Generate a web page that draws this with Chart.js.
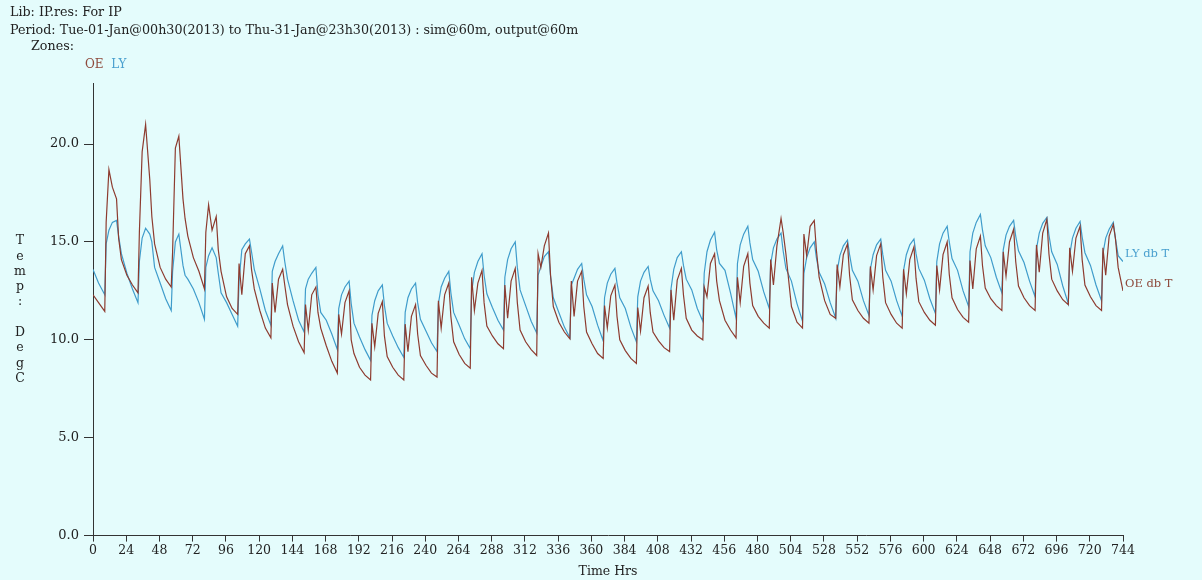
<!DOCTYPE html>
<html>
<head>
<meta charset="utf-8">
<script src="https://cdn.jsdelivr.net/npm/chart.js@4.4.1/dist/chart.umd.min.js"></script>
<style>
  html, body { margin:0; padding:0; background:#e4fcfc; }
  #wrap { width:1202px; height:580px; position:relative; }
</style>
</head>
<body>
<div id="wrap"><canvas id="c" width="1202" height="580"></canvas></div>
<script>
// ---- Data ----
const seriesNames = ["OE", "LY"];
const seriesLabels = ["OE db T", "LY db T"];
const headerLines = [
  "Lib: IP.res: For IP",
  "Period: Tue-01-Jan@00h30(2013) to Thu-31-Jan@23h30(2013) : sim@60m, output@60m",
  "Zones:"
];
const yTitleLetters = ["T","e","m","p",":","","D","e","g","C"];
const xTitle = "Time Hrs";

const hours = [0, 4,
8.5, 9.5, 11.5, 14, 17, 18.5, 20.5, 24.5, 28.5,
32.5, 33.5, 35.5, 38, 41, 42.5, 44.5, 48.5, 52.5,
56.5, 57.5, 59.5, 62, 65, 66.5, 68.5, 72.5, 76.5,
80.5, 81.5, 83.5, 86, 89, 90.5, 92.5, 96.5, 100.5,
104.5, 105.5, 107.5, 110, 113, 114.5, 116.5, 120.5, 124.5,
128.5, 129.5, 131.5, 134, 137, 138.5, 140.5, 144.5, 148.5,
152.5, 153.5, 155.5, 158, 161, 162.5, 164.5, 168.5, 172.5,
176.5, 177.5, 179.5, 182, 185, 186.5, 188.5, 192.5, 196.5,
200.5, 201.5, 203.5, 206, 209, 210.5, 212.5, 216.5, 220.5,
224.5, 225.5, 227.5, 230, 233, 234.5, 236.5, 240.5, 244.5,
248.5, 249.5, 251.5, 254, 257, 258.5, 260.5, 264.5, 268.5,
272.5, 273.5, 275.5, 278, 281, 282.5, 284.5, 288.5, 292.5,
296.5, 297.5, 299.5, 302, 305, 306.5, 308.5, 312.5, 316.5,
320.5, 321.5, 323.5, 326, 329, 330.5, 332.5, 336.5, 340.5,
344.5, 345.5, 347.5, 350, 353, 354.5, 356.5, 360.5, 364.5,
368.5, 369.5, 371.5, 374, 377, 378.5, 380.5, 384.5, 388.5,
392.5, 393.5, 395.5, 398, 401, 402.5, 404.5, 408.5, 412.5,
416.5, 417.5, 419.5, 422, 425, 426.5, 428.5, 432.5, 436.5,
440.5, 441.5, 443.5, 446, 449, 450.5, 452.5, 456.5, 460.5,
464.5, 465.5, 467.5, 470, 473, 474.5, 476.5, 480.5, 484.5,
488.5, 489.5, 491.5, 494, 497, 498.5, 500.5, 504.5, 508.5,
512.5, 513.5, 515.5, 518, 521, 522.5, 524.5, 528.5, 532.5,
536.5, 537.5, 539.5, 542, 545, 546.5, 548.5, 552.5, 556.5,
560.5, 561.5, 563.5, 566, 569, 570.5, 572.5, 576.5, 580.5,
584.5, 585.5, 587.5, 590, 593, 594.5, 596.5, 600.5, 604.5,
608.5, 609.5, 611.5, 614, 617, 618.5, 620.5, 624.5, 628.5,
632.5, 633.5, 635.5, 638, 641, 642.5, 644.5, 648.5, 652.5,
656.5, 657.5, 659.5, 662, 665, 666.5, 668.5, 672.5, 676.5,
680.5, 681.5, 683.5, 686, 689, 690.5, 692.5, 696.5, 700.5,
704.5, 705.5, 707.5, 710, 713, 714.5, 716.5, 720.5, 724.5,
728.5, 729.5, 731.5, 734, 737, 738.5, 740.5, 744];

const oeTemp = [12.3, 11.9,
11.45, 16.0, 18.7, 17.8, 17.2, 15.2, 14.1, 13.3, 12.8,
12.4, 15.5, 19.6, 21.0, 18.2, 16.3, 14.9, 13.7, 13.1,
12.7, 14.5, 19.8, 20.4, 17.2, 16.2, 15.3, 14.2, 13.5,
12.6, 15.5, 16.9, 15.6, 16.3, 14.6, 13.5, 12.2, 11.6,
11.3, 13.9, 12.3, 14.4, 14.8, 13.6, 12.6, 11.5, 10.6,
10.1, 12.9, 11.4, 13.1, 13.6, 12.8, 11.8, 10.7, 9.9,
9.35, 11.8, 10.5, 12.3, 12.7, 11.4, 10.6, 9.7, 8.9,
8.3, 11.3, 10.3, 11.9, 12.5, 10.0, 9.3, 8.6, 8.2,
7.95, 10.85, 9.65, 11.35, 11.95, 10.2, 9.15, 8.6, 8.2,
7.95, 10.8, 9.4, 11.2, 11.8, 10.3, 9.2, 8.7, 8.3,
8.1, 12.0, 10.6, 12.3, 12.9, 11.2, 9.9, 9.25, 8.8,
8.55, 13.2, 11.5, 12.9, 13.55, 11.9, 10.7, 10.2, 9.8,
9.55, 12.8, 11.1, 13.0, 13.65, 11.9, 10.5, 9.9, 9.5,
9.2, 14.4, 13.7, 14.8, 15.45, 13.3, 11.7, 10.9, 10.4,
10.05, 13.0, 11.2, 13.0, 13.5, 11.7, 10.4, 9.8, 9.3,
9.05, 11.75, 10.6, 12.25, 12.8, 11.2, 10.0, 9.45, 9.05,
8.8, 11.65, 10.45, 12.15, 12.75, 11.4, 10.4, 9.95, 9.6,
9.4, 12.55, 11.0, 13.05, 13.65, 12.3, 11.1, 10.5, 10.2,
10.0, 12.7, 12.2, 13.9, 14.4, 13.0, 12.0, 11.0, 10.5,
10.1, 13.2, 11.9, 13.75, 14.4, 12.9, 11.75, 11.2, 10.85,
10.6, 14.1, 12.8, 14.8, 16.2, 15.5, 14.4, 11.7, 10.9,
10.6, 15.4, 14.3, 15.8, 16.1, 14.6, 13.2, 12.0, 11.3,
11.1, 13.85, 12.7, 14.35, 14.9, 13.3, 12.05, 11.5, 11.1,
10.85, 13.75, 12.55, 14.3, 14.9, 13.2, 11.9, 11.3, 10.85,
10.6, 13.6, 12.35, 14.1, 14.75, 13.15, 11.95, 11.4, 11.0,
10.75, 13.8, 12.55, 14.35, 15.0, 13.35, 12.15, 11.55, 11.15,
10.9, 14.05, 12.6, 14.65, 15.3, 13.8, 12.65, 12.1, 11.75,
11.5, 14.5, 13.25, 15.0, 15.65, 14.0, 12.75, 12.15, 11.75,
11.5, 14.85, 13.45, 15.45, 16.15, 14.4, 13.1, 12.5, 12.05,
11.8, 14.7, 13.5, 15.2, 15.8, 14.1, 12.8, 12.2, 11.75,
11.5, 14.7, 13.3, 15.3, 15.9, 15.2, 13.7, 12.5];

const lyTemp = [13.6, 12.9,
12.3, 14.9, 15.6, 16.0, 16.1, 15.3, 14.4, 13.4, 12.6,
11.9, 14.0, 15.2, 15.7, 15.4, 15.0, 13.7, 12.9, 12.1,
11.5, 13.5, 15.0, 15.4, 13.8, 13.3, 13.1, 12.6, 11.9,
11.05, 13.7, 14.3, 14.7, 14.2, 13.4, 12.4, 11.9, 11.3,
10.7, 13.0, 14.6, 14.9, 15.15, 14.5, 13.6, 12.6, 11.5,
10.75, 13.5, 14.0, 14.4, 14.8, 14.0, 13.1, 12.0, 11.0,
10.4, 12.6, 13.1, 13.4, 13.7, 12.3, 11.4, 11.0, 10.3,
9.5, 11.6, 12.3, 12.7, 13.0, 11.85, 10.85, 10.15, 9.5,
8.95, 11.25, 12.0, 12.5, 12.8, 11.75, 10.85, 10.2, 9.6,
9.1, 11.4, 12.15, 12.6, 12.9, 11.9, 11.05, 10.45, 9.85,
9.4, 11.85, 12.7, 13.15, 13.5, 12.4, 11.4, 10.75, 10.05,
9.55, 12.45, 13.45, 14.0, 14.4, 13.3, 12.35, 11.65, 11.0,
10.5, 13.2, 14.1, 14.65, 15.0, 13.7, 12.55, 11.75, 10.95,
10.35, 13.3, 13.75, 14.25, 14.5, 13.25, 12.15, 11.4, 10.65,
10.1, 12.8, 13.15, 13.6, 13.9, 13.1, 12.3, 11.7, 10.75,
9.95, 12.15, 12.9, 13.35, 13.65, 12.9, 12.15, 11.6, 10.65,
9.9, 12.2, 13.0, 13.45, 13.75, 13.1, 12.5, 12.0, 11.25,
10.6, 12.6, 13.6, 14.2, 14.5, 13.8, 13.1, 12.55, 11.6,
10.95, 13.4, 14.5, 15.1, 15.5, 14.6, 13.9, 13.55, 12.4,
11.1, 13.9, 14.85, 15.4, 15.8, 14.95, 14.1, 13.5, 12.45,
11.6, 13.9, 14.7, 15.15, 15.45, 14.55, 13.65, 13.0, 11.85,
10.95, 13.4, 14.2, 14.7, 15.0, 14.2, 13.45, 12.85, 11.9,
11.1, 13.5, 14.3, 14.8, 15.1, 14.35, 13.55, 13.0, 12.0,
11.25, 13.6, 14.35, 14.85, 15.15, 14.35, 13.55, 13.0, 12.0,
11.2, 13.55, 14.35, 14.85, 15.15, 14.4, 13.65, 13.05, 12.1,
11.35, 14.0, 14.9, 15.45, 15.8, 15.0, 14.15, 13.55, 12.5,
11.7, 14.5, 15.45, 16.0, 16.4, 15.6, 14.8, 14.2, 13.2,
12.4, 14.6, 15.35, 15.8, 16.1, 15.3, 14.55, 13.95, 13.0,
12.2, 14.65, 15.45, 15.95, 16.25, 15.35, 14.5, 13.85, 12.75,
11.85, 14.35, 15.2, 15.7, 16.05, 15.25, 14.45, 13.8, 12.8,
12.0, 14.4, 15.2, 15.65, 16.0, 15.2, 14.3, 14.0];

// ---- Styling ----
const BG = "#e4fcfc";
const OE_COLOR = "#8d3b2f";
const LY_COLOR = "#3f9ccb";
const OE_TEXT = "#8e4a3c";
const LY_TEXT = "#4aa0cf";
const AXIS = "#333333";
const TXT = "#222222";
const FONT = "DejaVu Serif";

const textPlugin = {
  id: "extraText",
  beforeDraw(chart) {
    const c = chart.ctx;
    c.save();
    c.fillStyle = BG;
    c.fillRect(0, 0, chart.width, chart.height);
    c.restore();
  },
  afterDraw(chart) {
    const c = chart.ctx;
    const xs = chart.scales.x, ys = chart.scales.y;
    c.save();
    c.textBaseline = "middle";
    c.textAlign = "left";
    c.fillStyle = TXT;
    c.font = "12.7px '" + FONT + "'";
    c.fillText(headerLines[0], 10, 13);
    c.fillText(headerLines[1], 10, 31);
    c.fillText(headerLines[2], 31, 47);
    // zone names
    c.font = "12px '" + FONT + "'";
    c.fillStyle = OE_TEXT;
    c.fillText(seriesNames[0], 85, 65);
    const w0 = c.measureText(seriesNames[0] + "  ").width;
    c.fillStyle = LY_TEXT;
    c.fillText(seriesNames[1], 85 + w0, 65);
    // y title stacked letters
    c.font = "12.5px '" + FONT + "'";
    c.fillStyle = TXT;
    c.textAlign = "center";
    yTitleLetters.forEach((ch, i) => { if (ch) c.fillText(ch, 20, 241 + i * 15.3); });
    // end labels
    c.font = "11.5px '" + FONT + "'";
    c.textAlign = "left";
    const xe = xs.getPixelForValue(hours[hours.length - 1]) + 2;
    c.fillStyle = LY_TEXT;
    c.fillText(seriesLabels[1], xe, ys.getPixelForValue(lyTemp[lyTemp.length - 1]) - 8);
    c.fillStyle = OE_TEXT;
    c.fillText(seriesLabels[0], xe, ys.getPixelForValue(oeTemp[oeTemp.length - 1]) - 7);
    c.restore();
  }
};

new Chart(document.getElementById("c"), {
  type: "line",
  data: {
    datasets: [
      { label: seriesNames[0], data: hours.map((h, i) => ({ x: h, y: oeTemp[i] })),
        borderColor: OE_COLOR, borderWidth: 1.2, pointRadius: 0, tension: 0, fill: false },
      { label: seriesNames[1], data: hours.map((h, i) => ({ x: h, y: lyTemp[i] })),
        borderColor: LY_COLOR, borderWidth: 1.2, pointRadius: 0, tension: 0, fill: false }
    ]
  },
  options: {
    responsive: false,
    animation: false,
    layout: { padding: { left: 0, top: 83, right: 79, bottom: 0 } },
    plugins: { legend: { display: false }, tooltip: { enabled: false }, title: { display: false } },
    scales: {
      x: {
        type: "linear", min: 0, max: 744,
        ticks: { stepSize: 24, autoSkip: false, maxRotation: 0, color: TXT, padding: 2,
                 font: { family: FONT, size: 12.5 } },
        grid: { drawOnChartArea: false, drawTicks: true, tickLength: 6, color: AXIS },
        border: { display: true, color: AXIS, width: 1 },
        title: { display: true, text: xTitle, color: TXT, font: { family: FONT, size: 12.5 },
                 padding: { top: 0, bottom: 1 } },
        afterFit(s) { s.height = 44.4; }
      },
      y: {
        min: 0, max: 23.12,
        ticks: { stepSize: 5, includeBounds: false, color: TXT, padding: 5,
                 font: { family: FONT, size: 13 }, callback: v => Number(v).toFixed(1) },
        grid: { drawOnChartArea: false, drawTicks: true, tickLength: 9, color: AXIS },
        border: { display: true, color: AXIS, width: 1 },
        afterFit(s) { s.width = 93; }
      }
    }
  },
  plugins: [textPlugin]
});
</script>
</body>
</html>
